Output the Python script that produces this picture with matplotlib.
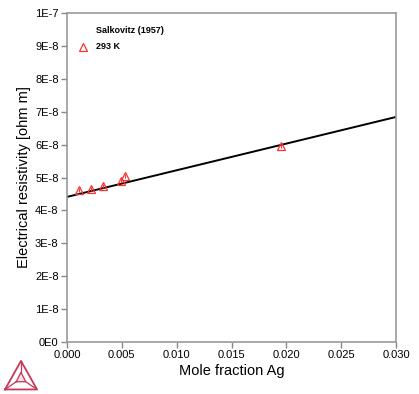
import matplotlib
matplotlib.use("Agg")
import matplotlib.pyplot as plt
import numpy as np

plt.rcParams['font.family'] = ['Liberation Sans', 'DejaVu Sans']

# Data
line_x = [0.0, 0.030]
line_y = [4.41e-8, 6.84e-8]
pts_x = [0.0011, 0.0022, 0.0033, 0.0049, 0.0053, 0.0195]
pts_y = [4.62e-8, 4.65e-8, 4.74e-8, 4.88e-8, 5.05e-8, 5.97e-8]
yticks = [i * 1e-8 for i in range(11)]
ytick_labels = ['0E0'] + [f'{i}E-8' for i in range(1, 10)] + ['1E-7']
xticks = [0.000, 0.005, 0.010, 0.015, 0.020, 0.025, 0.030]
xtick_labels = ['0.000', '0.005', '0.010', '0.015', '0.020', '0.025', '0.030']

W, H = 419, 394
fig = plt.figure(figsize=(W / 100, H / 100), dpi=100)
ax = fig.add_axes([67 / W, 1 - 342 / H, (396 - 67) / W, (342 - 13) / H])

ax.plot(line_x, line_y, color='black', lw=1.4, zorder=2)
ax.plot(pts_x, pts_y, linestyle='none', marker='^', markersize=6,
        markerfacecolor='none', markeredgecolor='#ff3030', markeredgewidth=0.9, zorder=3)
ax.plot(pts_x, pts_y, linestyle='none', marker='|', markersize=2.5,
        color='#ff3030', markeredgewidth=0.8, zorder=3)

ax.set_xlim(0, 0.030)
ax.set_ylim(0, 1e-7)
ax.set_xticks(xticks)
ax.set_xticklabels(xtick_labels, fontsize=8)
ax.set_yticks(yticks)
ax.set_yticklabels(ytick_labels, fontsize=8)
ax.tick_params(direction='out', length=4, width=1, color='#888888', pad=2)
for s in ax.spines.values():
    s.set_color('#999999')
    s.set_linewidth(1.2)

ax.set_xlabel('Mole fraction Ag', fontsize=10.5, labelpad=3)
ax.set_ylabel('Electrical resistivity [ohm m]', fontsize=10.5, labelpad=3)

# legend-like annotation
ax.text(0.088, 0.947, 'Salkovitz (1957)', transform=ax.transAxes, fontsize=6.5,
        fontweight='bold', va='center', ha='left')
ax.plot([0.048], [0.898], transform=ax.transAxes, marker='^', markersize=6,
        markerfacecolor='none', markeredgecolor='#ff3030', markeredgewidth=0.9, clip_on=False)
ax.text(0.088, 0.898, '293 K', transform=ax.transAxes, fontsize=6.5,
        fontweight='bold', va='center', ha='left')

# logo
lax = fig.add_axes([4 / W, 1 - 391 / H, 34 / W, 31 / H])
lax.set_xlim(0, 1)
lax.set_ylim(0, 1)
lax.axis('off')
c = '#c8385a'
outer = np.array([[0.03, 0.05], [0.97, 0.05], [0.5, 0.97], [0.03, 0.05]])
inner = np.array([[0.36, 0.30], [0.64, 0.30], [0.5, 0.60], [0.36, 0.30]])
lax.plot(outer[:, 0], outer[:, 1], color=c, lw=1.3)
lax.plot(inner[:, 0], inner[:, 1], color=c, lw=0.9)
for (a, b) in [(0, 0), (1, 1), (2, 2)]:
    lax.plot([outer[a, 0], inner[b, 0]], [outer[a, 1], inner[b, 1]], color=c, lw=0.9)
lax.fill([0.36, 0.64, 0.5], [0.30, 0.30, 0.60], color=c, alpha=0.15)

fig.savefig('out.png', dpi=100)
